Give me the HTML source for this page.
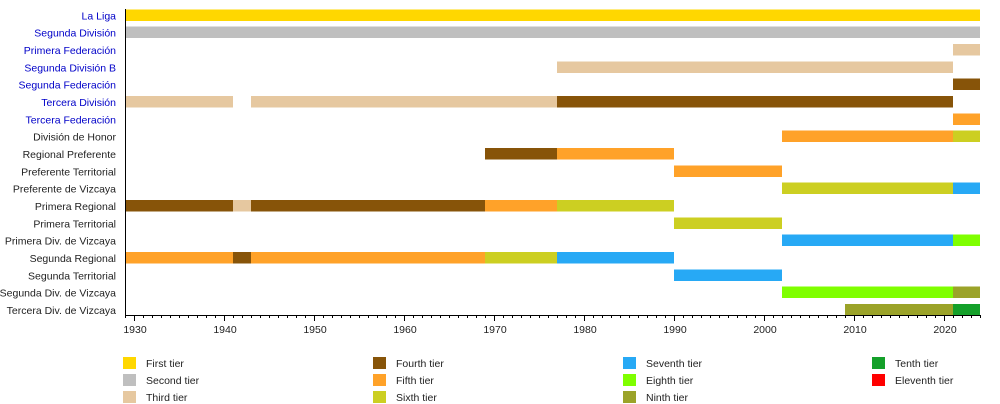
<!DOCTYPE html>
<html><head><meta charset="utf-8"><style>
html,body{margin:0;padding:0;background:#fff;width:1000px;height:404px;overflow:hidden}
svg{display:block}
text{font-family:"Liberation Sans",Arial,sans-serif;font-size:10.5px}
.l{text-anchor:end}
.b{fill:#0000c8}
.k{fill:#222}
.t{text-anchor:middle;fill:#222}
</style></head><body>
<svg width="1000" height="404" viewBox="0 0 1000 404" xmlns="http://www.w3.org/2000/svg">
<!-- bars: x = 125 + (year-1929)*9 ; row top = 9.3 + i*17.33 -->
<g shape-rendering="crispEdges">
<!-- row0 La Liga -->
<rect x="125" y="9.3" width="855" height="11.6" fill="#FFD700"/>
<!-- row1 Segunda División -->
<rect x="125" y="26.6" width="855" height="11.6" fill="#BFBFBF"/>
<!-- row2 Primera Federación -->
<rect x="953" y="44" width="27" height="11.6" fill="#E6C8A0"/>
<!-- row3 Segunda División B -->
<rect x="557" y="61.3" width="396" height="11.6" fill="#E6C8A0"/>
<!-- row4 Segunda Federación -->
<rect x="953" y="78.6" width="27" height="11.6" fill="#875409"/>
<!-- row5 Tercera División -->
<rect x="125" y="96" width="108" height="11.6" fill="#E6C8A0"/>
<rect x="251" y="96" width="306" height="11.6" fill="#E6C8A0"/>
<rect x="557" y="96" width="396" height="11.6" fill="#875409"/>
<!-- row6 Tercera Federación -->
<rect x="953" y="113.3" width="27" height="11.6" fill="#FFA229"/>
<!-- row7 División de Honor -->
<rect x="782" y="130.6" width="171" height="11.6" fill="#FFA229"/>
<rect x="953" y="130.6" width="27" height="11.6" fill="#CCCF22"/>
<!-- row8 Regional Preferente -->
<rect x="485" y="148" width="72" height="11.6" fill="#875409"/>
<rect x="557" y="148" width="117" height="11.6" fill="#FFA229"/>
<!-- row9 Preferente Territorial -->
<rect x="674" y="165.3" width="108" height="11.6" fill="#FFA229"/>
<!-- row10 Preferente de Vizcaya -->
<rect x="782" y="182.6" width="171" height="11.6" fill="#CCCF22"/>
<rect x="953" y="182.6" width="27" height="11.6" fill="#27A9F5"/>
<!-- row11 Primera Regional -->
<rect x="125" y="200" width="108" height="11.6" fill="#875409"/>
<rect x="233" y="200" width="18" height="11.6" fill="#E6C8A0"/>
<rect x="251" y="200" width="234" height="11.6" fill="#875409"/>
<rect x="485" y="200" width="72" height="11.6" fill="#FFA229"/>
<rect x="557" y="200" width="117" height="11.6" fill="#CCCF22"/>
<!-- row12 Primera Territorial -->
<rect x="674" y="217.3" width="108" height="11.6" fill="#CCCF22"/>
<!-- row13 Primera Div. de Vizcaya -->
<rect x="782" y="234.6" width="171" height="11.6" fill="#27A9F5"/>
<rect x="953" y="234.6" width="27" height="11.6" fill="#7FFF00"/>
<!-- row14 Segunda Regional -->
<rect x="125" y="252" width="108" height="11.6" fill="#FFA229"/>
<rect x="233" y="252" width="18" height="11.6" fill="#875409"/>
<rect x="251" y="252" width="234" height="11.6" fill="#FFA229"/>
<rect x="485" y="252" width="72" height="11.6" fill="#CCCF22"/>
<rect x="557" y="252" width="117" height="11.6" fill="#27A9F5"/>
<!-- row15 Segunda Territorial -->
<rect x="674" y="269.3" width="108" height="11.6" fill="#27A9F5"/>
<!-- row16 Segunda Div. de Vizcaya -->
<rect x="782" y="286.6" width="171" height="11.6" fill="#7FFF00"/>
<rect x="953" y="286.6" width="27" height="11.6" fill="#9BA329"/>
<!-- row17 Tercera Div. de Vizcaya -->
<rect x="845" y="304" width="108" height="11.6" fill="#9BA329"/>
<rect x="953" y="304" width="27" height="11.6" fill="#14A02A"/>
</g>

<!-- axes -->
<g stroke="#000" stroke-width="1" shape-rendering="crispEdges">
<line x1="125.5" y1="9" x2="125.5" y2="315.5"/>
<line x1="125" y1="315.5" x2="981" y2="315.5"/>
<path d="M125.5 315v3M143.5 315v3M152.5 315v3M161.5 315v3M170.5 315v3M179.5 315v3M188.5 315v3M197.5 315v3M206.5 315v3M215.5 315v3
M233.5 315v3M242.5 315v3M251.5 315v3M260.5 315v3M269.5 315v3M278.5 315v3M287.5 315v3M296.5 315v3M305.5 315v3
M323.5 315v3M332.5 315v3M341.5 315v3M350.5 315v3M359.5 315v3M368.5 315v3M377.5 315v3M386.5 315v3M395.5 315v3
M413.5 315v3M422.5 315v3M431.5 315v3M440.5 315v3M449.5 315v3M458.5 315v3M467.5 315v3M476.5 315v3M485.5 315v3
M503.5 315v3M512.5 315v3M521.5 315v3M530.5 315v3M539.5 315v3M548.5 315v3M557.5 315v3M566.5 315v3M575.5 315v3
M593.5 315v3M602.5 315v3M611.5 315v3M620.5 315v3M629.5 315v3M638.5 315v3M647.5 315v3M656.5 315v3M665.5 315v3
M683.5 315v3M692.5 315v3M701.5 315v3M710.5 315v3M719.5 315v3M728.5 315v3M737.5 315v3M746.5 315v3M755.5 315v3
M773.5 315v3M782.5 315v3M791.5 315v3M800.5 315v3M809.5 315v3M818.5 315v3M827.5 315v3M836.5 315v3M845.5 315v3
M863.5 315v3M872.5 315v3M881.5 315v3M890.5 315v3M899.5 315v3M908.5 315v3M917.5 315v3M926.5 315v3M935.5 315v3
M953.5 315v3M962.5 315v3M971.5 315v3M980.5 315v3"/>
<path d="M134.5 315v6M224.5 315v6M314.5 315v6M404.5 315v6M494.5 315v6M584.5 315v6M674.5 315v6M764.5 315v6M854.5 315v6M944.5 315v6"/>
</g>

<!-- year labels -->
<g class="tk">
<text class="t" x="135" y="333">1930</text>
<text class="t" x="225" y="333">1940</text>
<text class="t" x="315" y="333">1950</text>
<text class="t" x="405" y="333">1960</text>
<text class="t" x="495" y="333">1970</text>
<text class="t" x="585" y="333">1980</text>
<text class="t" x="675" y="333">1990</text>
<text class="t" x="765" y="333">2000</text>
<text class="t" x="855" y="333">2010</text>
<text class="t" x="945" y="333">2020</text>
</g>

<!-- row labels -->
<text class="l b" x="116" y="19.3">La Liga</text>
<text class="l b" x="116" y="36.6">Segunda División</text>
<text class="l b" x="116" y="54">Primera Federación</text>
<text class="l b" x="116" y="71.3">Segunda División B</text>
<text class="l b" x="116" y="88.6">Segunda Federación</text>
<text class="l b" x="116" y="106">Tercera División</text>
<text class="l b" x="116" y="123.3">Tercera Federación</text>
<text class="l k" x="116" y="140.6">División de Honor</text>
<text class="l k" x="116" y="158">Regional Preferente</text>
<text class="l k" x="116" y="175.3">Preferente Territorial</text>
<text class="l k" x="116" y="192.6">Preferente de Vizcaya</text>
<text class="l k" x="116" y="210">Primera Regional</text>
<text class="l k" x="116" y="227.3">Primera Territorial</text>
<text class="l k" x="116" y="244.6">Primera Div. de Vizcaya</text>
<text class="l k" x="116" y="262">Segunda Regional</text>
<text class="l k" x="116" y="279.3">Segunda Territorial</text>
<text class="l k" x="116" y="296.6">Segunda Div. de Vizcaya</text>
<text class="l k" x="116" y="314">Tercera Div. de Vizcaya</text>

<!-- legend -->
<g shape-rendering="crispEdges">
<rect x="123" y="357" width="13" height="12" fill="#FFD700"/>
<rect x="123" y="374" width="13" height="12" fill="#BFBFBF"/>
<rect x="123" y="391" width="13" height="12" fill="#E6C8A0"/>
<rect x="373" y="357" width="13" height="12" fill="#875409"/>
<rect x="373" y="374" width="13" height="12" fill="#FFA229"/>
<rect x="373" y="391" width="13" height="12" fill="#CCCF22"/>
<rect x="623" y="357" width="13" height="12" fill="#27A9F5"/>
<rect x="623" y="374" width="13" height="12" fill="#7FFF00"/>
<rect x="623" y="391" width="13" height="12" fill="#9BA329"/>
<rect x="872" y="357" width="13" height="12" fill="#14A02A"/>
<rect x="872" y="374" width="13" height="12" fill="#FF0000"/>
</g>
<g class="k">
<text x="146" y="367">First tier</text>
<text x="146" y="384">Second tier</text>
<text x="146" y="401">Third tier</text>
<text x="396" y="367">Fourth tier</text>
<text x="396" y="384">Fifth tier</text>
<text x="396" y="401">Sixth tier</text>
<text x="646" y="367">Seventh tier</text>
<text x="646" y="384">Eighth tier</text>
<text x="646" y="401">Ninth tier</text>
<text x="895" y="367">Tenth tier</text>
<text x="895" y="384">Eleventh tier</text>
</g>
</svg>
</body></html>
